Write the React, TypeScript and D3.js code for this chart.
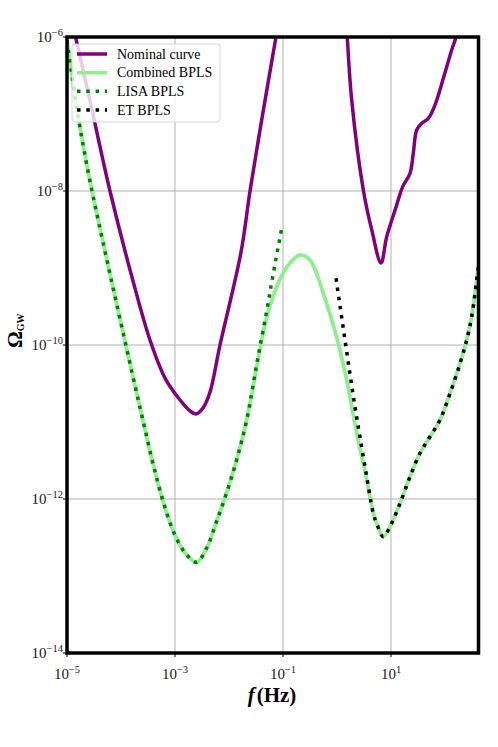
import React from "react";
import * as d3 from "d3";

// ---- axis ticks ----
const xTickValues = [1e-5, 1e-3, 1e-1, 1e1];
const xTickExps = ["−5", "−3", "−1", "1"];
const yTickValues = [1e-6, 1e-8, 1e-10, 1e-12, 1e-14];
const yTickExps = ["−6", "−8", "−10", "−12", "−14"];

// ---- Nominal curve (LISA branch) ----
const nominalLisaF = [1e-5, 1.44e-5, 2.67e-5, 6.25e-5, 1.65e-4, 3.44e-4, 6.53e-4, 1.24e-3, 1.9e-3, 2.45e-3, 3.3e-3, 4.45e-3, 6.81e-3, 1.67e-2, 2.45e-2, 4.27e-2, 7.41e-2, 9.57e-2];
const nominalLisaOmega = [3.06e-6, 1.0e-6, 1.48e-7, 1.0e-8, 6.98e-10, 1.16e-10, 3.72e-11, 1.93e-11, 1.39e-11, 1.27e-11, 1.52e-11, 2.45e-11, 1.0e-10, 1.61e-9, 1.0e-8, 1.06e-7, 1.0e-6, 3.02e-6];

// ---- Nominal curve (ET branch) ----
const nominalEtF = [1.5, 1.55, 1.87, 3.07, 4.4, 6.53, 8.32, 11.9, 16.5, 22.5, 25.9, 29.9, 37.1, 49.1, 65.3, 93.1, 133, 160, 190];
const nominalEtOmega = [1.66e-6, 1.0e-6, 1.52e-7, 1.03e-8, 3.12e-9, 1.16e-9, 2.55e-9, 5.66e-9, 1.14e-8, 1.7e-8, 3.12e-8, 6.19e-8, 7.57e-8, 8.79e-8, 1.31e-7, 2.91e-7, 6.78e-7, 1.0e-6, 1.66e-6];

// ---- Combined BPLS ----
const combinedF = [1e-5, 1.58e-5, 2.51e-5, 3.98e-5, 6.31e-5, 1e-4, 1.58e-4, 2.51e-4, 3.98e-4, 6.31e-4, 1e-3, 1.58e-3, 2.51e-3, 3.86e-3, 5.92e-3, 9.06e-3, 1.39e-2, 2.13e-2, 3.26e-2, 4.27e-2, 5.74e-2, 8.79e-2, 0.135, 0.207, 0.316, 0.557, 0.986, 1.51, 2.32, 3.55, 4.7, 5.43, 7.19, 9.57, 14.7, 22.5, 34.4, 52.7, 80.7, 124, 190, 252, 312, 386, 417];
const combinedOmega = [8.91e-7, 1.0e-7, 1.66e-8, 3.55e-9, 8.13e-10, 1.91e-10, 4.57e-11, 1.1e-11, 2.75e-12, 8.32e-13, 3.39e-13, 1.95e-13, 1.51e-13, 2.31e-13, 5.18e-13, 1.21e-12, 3.25e-12, 1.07e-11, 5.18e-11, 1.43e-10, 3.21e-10, 7.19e-10, 1.16e-9, 1.48e-9, 1.27e-9, 4.69e-10, 1.26e-10, 3.51e-11, 7.13e-12, 1.77e-12, 6.52e-13, 4.83e-13, 3.24e-13, 4.37e-13, 8.79e-13, 1.95e-12, 3.93e-12, 6.44e-12, 1.06e-11, 2.36e-11, 5.78e-11, 1.16e-10, 2.33e-10, 6.98e-10, 1.05e-9];

// ---- LISA BPLS ----
const lisaF = [1e-5, 1.58e-5, 2.51e-5, 3.98e-5, 6.31e-5, 1e-4, 1.58e-4, 2.51e-4, 3.98e-4, 6.31e-4, 1e-3, 1.58e-3, 2.51e-3, 3.86e-3, 5.92e-3, 9.06e-3, 1.39e-2, 2.13e-2, 3.26e-2, 4.99e-2, 6.61e-2, 9.55e-2];
const lisaOmega = [8.91e-7, 1.0e-7, 1.66e-8, 3.55e-9, 8.13e-10, 1.91e-10, 4.57e-11, 1.1e-11, 2.75e-12, 8.32e-13, 3.39e-13, 1.95e-13, 1.51e-13, 2.31e-13, 5.18e-13, 1.21e-12, 3.25e-12, 1.07e-11, 5.66e-11, 2.77e-10, 8.53e-10, 3.4e-9];

// ---- ET BPLS ----
const etF = [0.96, 1.14, 1.41, 1.74, 2.15, 2.67, 3.55, 4.7, 5.43, 7.19, 9.57, 14.7, 22.5, 34.4, 52.7, 80.7, 124, 190, 252, 312, 386, 417];
const etOmega = [7.35e-10, 3.16e-10, 1.15e-10, 4.17e-11, 1.58e-11, 6.31e-12, 1.95e-12, 6.52e-13, 4.83e-13, 3.24e-13, 4.37e-13, 8.79e-13, 1.95e-12, 3.93e-12, 6.44e-12, 1.06e-11, 2.36e-11, 5.78e-11, 1.16e-10, 2.33e-10, 6.98e-10, 1.05e-9];

const legendLabels = ["Nominal curve", "Combined BPLS", "LISA BPLS", "ET BPLS"];

const SERIF = "'Liberation Serif', 'DejaVu Serif', serif";

export default function App() {
  const W = 498, H = 747;
  const left = 67, right = 478.5, top = 37, bottom = 653;
  const x = d3.scaleLog().domain([1e-5, 417]).range([left, right]);
  const y = d3.scaleLog().domain([1e-14, 1e-6]).range([bottom, top]);

  const path = (fs: number[], os: number[]) =>
    d3
      .line<number>()
      .x((d) => x(d))
      .y((_d, i) => y(os[i]))
      .curve(d3.curveCatmullRom.alpha(0.5))(fs) || "";

  const purple = "#800080";
  const lightgreen = "#90EE90";
  const green = "#008000";
  const dot = "3.5,5.8";

  const legendStyles = [
    { stroke: purple, width: 3.5, dash: undefined as string | undefined },
    { stroke: lightgreen, width: 3.5, dash: undefined },
    { stroke: green, width: 3.5, dash: dot },
    { stroke: "#000", width: 3.5, dash: dot },
  ];
  const legendRowY = [54, 72.7, 91.3, 110];

  return (
    <svg
      width={W}
      height={H}
      style={{ position: "absolute", left: 0, top: 0, background: "#fff" }}
      fontFamily={SERIF}
    >
      <defs>
        <clipPath id="plotClip">
          <rect x={left} y={top} width={right - left} height={bottom - top} />
        </clipPath>
      </defs>
      <rect x={0} y={0} width={W} height={H} fill="#fff" />

      {/* grid */}
      <g stroke="#b0b0b0" strokeWidth={1}>
        {xTickValues.map((v, i) => (
          <line key={"gx" + i} x1={x(v)} x2={x(v)} y1={top} y2={bottom} />
        ))}
        {yTickValues.map((v, i) => (
          <line key={"gy" + i} x1={left} x2={right} y1={y(v)} y2={y(v)} />
        ))}
      </g>

      {/* curves */}
      <g clipPath="url(#plotClip)" fill="none">
        <path d={path(nominalLisaF, nominalLisaOmega)} stroke={purple} strokeWidth={3.5} />
        <path d={path(nominalEtF, nominalEtOmega)} stroke={purple} strokeWidth={3.5} />
        <path d={path(combinedF, combinedOmega)} stroke={lightgreen} strokeWidth={3.8} />
        <path d={path(lisaF, lisaOmega)} stroke={green} strokeWidth={3.5} strokeDasharray={dot} />
        <path d={path(etF, etOmega)} stroke="#000" strokeWidth={3.5} strokeDasharray={dot} />
      </g>

      {/* legend */}
      <g>
        <rect x={72} y={44} width={148} height={78} rx={3} fill="#fff" fillOpacity={0.8} stroke="#cccccc" strokeOpacity={0.8} strokeWidth={1} />
        {legendLabels.map((lab, i) => (
          <g key={"lg" + i}>
            <line
              x1={77}
              x2={107}
              y1={legendRowY[i]}
              y2={legendRowY[i]}
              stroke={legendStyles[i].stroke}
              strokeWidth={legendStyles[i].width}
              strokeDasharray={legendStyles[i].dash}
            />
            <text x={117} y={legendRowY[i] + 4.5} fontSize={14} fill="#000">
              {lab}
            </text>
          </g>
        ))}
      </g>

      {/* ticks */}
      <g stroke="#000" strokeWidth={1}>
        {xTickValues.map((v, i) => (
          <line key={"tx" + i} x1={x(v)} x2={x(v)} y1={bottom} y2={bottom + 4} />
        ))}
        {yTickValues.map((v, i) => (
          <line key={"ty" + i} x1={left - 4} x2={left} y1={y(v)} y2={y(v)} />
        ))}
      </g>
      {xTickValues.map((v, i) => (
        <text key={"lx" + i} x={x(v)} y={679} textAnchor="middle" fontSize={15} fill="#1a1a1a">
          <tspan>10</tspan>
          <tspan fontSize={10.5} dy={-6.5}>{xTickExps[i]}</tspan>
        </text>
      ))}
      {yTickValues.map((v, i) => (
        <text key={"ly" + i} x={left - 4} y={y(v) + 5} textAnchor="end" fontSize={15} fill="#1a1a1a">
          <tspan>10</tspan>
          <tspan fontSize={10.5} dy={-6.5}>{yTickExps[i]}</tspan>
        </text>
      ))}

      {/* axis labels */}
      <text x={272} y={702} textAnchor="middle" fontSize={21} fontWeight="bold" fill="#000">
        <tspan fontStyle="italic">f</tspan>
        <tspan dx={2}>(Hz)</tspan>
      </text>
      <text transform="translate(22,348) rotate(-90)" fontSize={21} fontWeight="bold" fill="#000">
        <tspan>Ω</tspan>
        <tspan fontSize={10} dy={1.5}>GW</tspan>
      </text>

      {/* frame */}
      <rect x={left} y={top} width={right - left} height={bottom - top} fill="none" stroke="#000" strokeWidth={3.5} />
    </svg>
  );
}
